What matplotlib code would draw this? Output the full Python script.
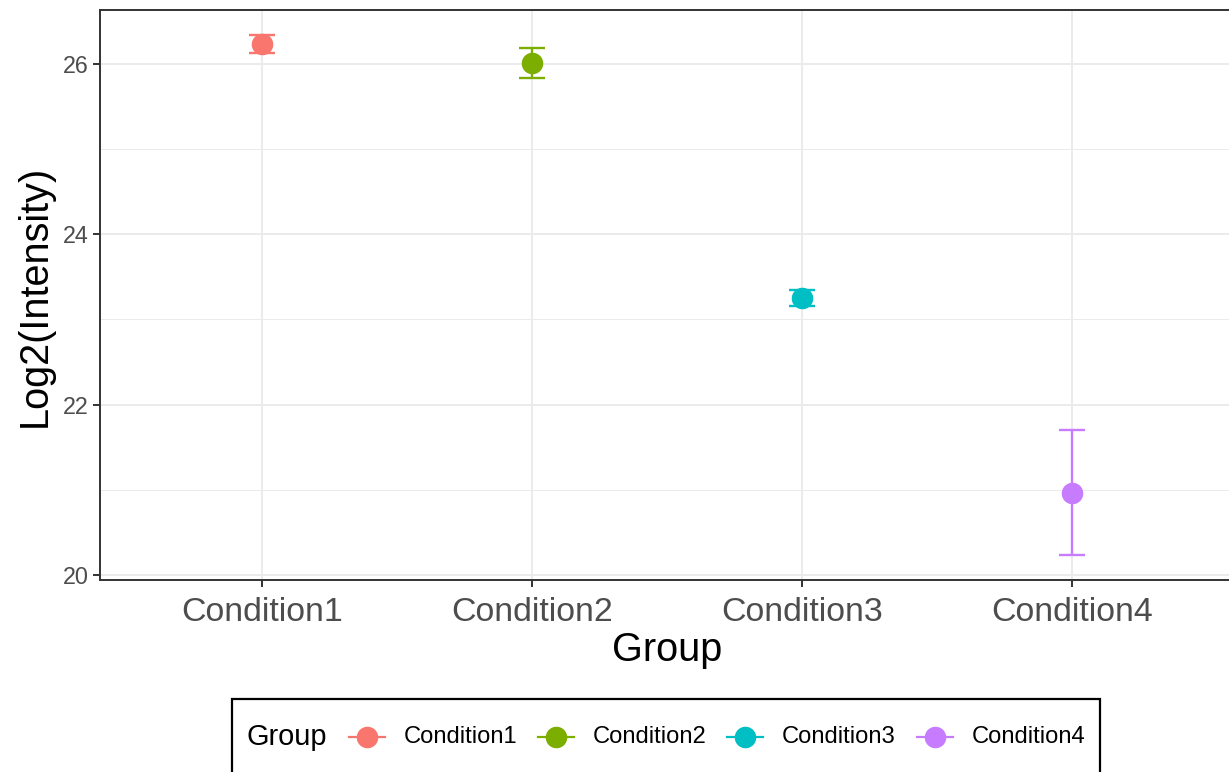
import matplotlib
matplotlib.use("Agg")
import matplotlib.pyplot as plt
from matplotlib.lines import Line2D
from matplotlib.patches import Rectangle

plt.rcParams['font.family'] = ['Liberation Sans', 'DejaVu Sans']

categories = ["Condition1", "Condition2", "Condition3", "Condition4"]
means = [26.235, 26.01, 23.25, 20.96]
lower = [26.13, 25.84, 23.16, 20.23]
upper = [26.34, 26.19, 23.35, 21.70]
colors = ["#F8766D", "#7CAE00", "#00BFC4", "#C77CFF"]
yticks = [20, 22, 24, 26]
yminor = [21, 23, 25]

W, H = 1229, 772
fig = plt.figure(figsize=(W / 100, H / 100), dpi=100)
ax = fig.add_axes([100 / W, 1 - 580 / H, 1134 / W, 570 / H])

xs = list(range(1, len(categories) + 1))
for x, m, lo, hi, c in zip(xs, means, lower, upper, colors):
    ax.errorbar([x], [m], yerr=[[m - lo], [hi - m]], fmt='none', ecolor=c,
                elinewidth=1.7, capsize=9.7, capthick=1.7, zorder=3)
    ax.plot([x], [m], 'o', color=c, markersize=14.5, zorder=4)

ax.set_xlim(0.4, 4.6)
ax.set_ylim(19.94, 26.634)
ax.set_xticks(xs)
ax.set_xticklabels(categories)
ax.set_yticks(yticks)
ax.set_yticks(yminor, minor=True)
ax.grid(which='major', color='#EBEBEB', linewidth=1.4, zorder=0)
ax.grid(which='minor', axis='y', color='#EBEBEB', linewidth=0.7, zorder=0)
ax.set_axisbelow(True)
ax.tick_params(axis='both', which='major', length=5, width=1.4, color='#333333',
               labelcolor='#4D4D4D')
ax.tick_params(axis='y', which='major', labelsize=16.8, pad=3)
ax.tick_params(axis='x', which='major', labelsize=24.4, pad=7)
ax.tick_params(axis='both', which='minor', length=0)
for s in ax.spines.values():
    s.set_color('#333333')
    s.set_linewidth(1.4)
ax.spines['right'].set_visible(False)

fig.text(667 / W, 1 - 650 / H, "Group", fontsize=28.5, ha='center', va='center')
fig.text(35 / W, 1 - 296 / H, "Log2(Intensity)", fontsize=28.5, ha='center',
         va='center', rotation=90)

# legend
fig.add_artist(Rectangle((232 / W, 1 - 790 / H), (1100 - 232) / W, 91 / H,
                         transform=fig.transFigure, fill=False, edgecolor='black',
                         linewidth=1.6))
ly = 1 - 737 / H
fig.text(247 / W, ly, "Group", fontsize=20.9, ha='left', va='center')
key_x = [367, 556, 745, 935]
for kx, lab, c in zip(key_x, categories, colors):
    fig.add_artist(Line2D([(kx - 18) / W, (kx + 18) / W], [ly, ly],
                          transform=fig.transFigure, color=c, linewidth=1.6))
    fig.add_artist(Line2D([kx / W], [ly], transform=fig.transFigure, color=c,
                          marker='o', markersize=14.5, linestyle='none'))
    fig.text((kx + 37) / W, ly, lab, fontsize=17.1, ha='left', va='center')

fig.savefig("out.png", dpi=100)
